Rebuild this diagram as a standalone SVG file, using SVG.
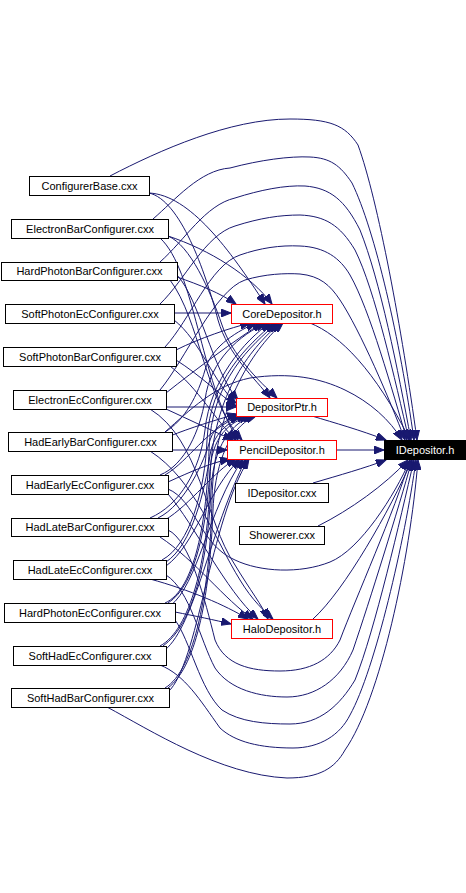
<svg xmlns="http://www.w3.org/2000/svg" width="466" height="893" viewBox="0 0 466 893">
<style>
.e{fill:none;stroke:#191970;stroke-width:1;marker-end:url(#a)}
.n rect{fill:#fff;stroke:#000;stroke-width:1}
.h rect{fill:#fff;stroke:#f00;stroke-width:1}
.r rect{fill:#000;stroke:#000;stroke-width:1}
text{font-family:"Liberation Sans",Arial,sans-serif;font-size:11px;text-anchor:middle;fill:#000}
.r text{fill:#fff}
</style>
<defs>
<marker id="a" markerUnits="userSpaceOnUse" markerWidth="11" markerHeight="8" refX="10" refY="4" orient="auto">
<path d="M0,0 L10,4 L0,8 z" fill="#191970" stroke="#191970"/>
</marker>
</defs>
<rect width="466" height="893" fill="#fff"/>
<g id="edges">
<path class="e" d="M110,176 C160,150 230,119 290,119 C330,119 345,125 358,145 C378,200 402,330 417,440"/>
<path class="e" d="M153,219 C175,200 200,170 230,168 C260,160 290,156 310,157 C330,158 340,165 352,183 C375,230 400,340 414,440"/>
<path class="e" d="M160,262 C185,240 205,205 235,198 C260,190 285,185 305,186 C330,188 345,200 360,230 C380,280 398,370 411,440"/>
<path class="e" d="M160,304 C185,280 205,235 235,226 C260,218 280,215 300,215 C325,216 340,225 355,250 C375,290 395,380 409,440"/>
<path class="e" d="M165,347 C190,320 210,265 240,255 C260,248 280,245 300,246 C325,247 340,258 350,275 C370,310 392,390 407,440"/>
<path class="e" d="M160,390 C185,360 215,290 245,280 C265,274 285,273 300,274 C320,276 330,285 340,300 C360,330 390,400 405,440"/>
<path class="e" d="M165,432 C190,410 215,385 250,378 C290,372 320,378 345,390 C370,402 390,420 402,440"/>
<path class="e" d="M168,489 C195,500 200,545 235,560 C260,572 300,574 330,562 C360,550 395,495 410,460"/>
<path class="e" d="M168,530 C190,540 205,600 215,640 C225,665 250,671 280,671 C310,671 330,660 340,640 C355,600 395,510 410,460"/>
<path class="e" d="M166,575 C190,590 200,640 215,668 C230,690 260,697 287,697 C315,697 340,680 353,650 C370,600 398,510 412,460"/>
<path class="e" d="M175,620 C190,640 200,690 222,710 C240,722 265,724 290,724 C320,724 340,705 355,680 C375,630 400,520 414,460"/>
<path class="e" d="M160,665 C185,675 200,700 220,728 C235,742 260,748 293,748 C320,748 340,735 350,715 C375,670 405,540 416,460"/>
<path class="e" d="M107,707 C150,730 220,775 287,778 C320,778 335,768 345,750 C380,700 410,560 418,460"/>
<path class="e" d="M310,323 C340,335 375,370 410,440"/>
<path class="e" d="M312,416 C335,423 360,430 386,440"/>
<path class="e" d="M336,450 L384,450"/>
<path class="e" d="M313,483 C340,475 365,468 386,460"/>
<path class="e" d="M318,526 C350,510 385,485 408,460"/>
<path class="e" d="M313,619 C345,590 390,510 412,460"/>
<path class="e" d="M149,193 C190,195 230,250 265,304"/>
<path class="e" d="M168,236 C210,250 250,275 272,304"/>
<path class="e" d="M177,277 C200,285 220,293 236,304"/>
<path class="e" d="M174,313 L231,313"/>
<path class="e" d="M176,350 C200,338 230,328 250,323"/>
<path class="e" d="M166,393 C195,370 235,340 262,323"/>
<path class="e" d="M165,432 C185,420 198,395 205,370 C212,345 240,330 256,323"/>
<path class="e" d="M160,475 C185,465 200,430 205,400 C210,360 240,335 266,323"/>
<path class="e" d="M150,518 C180,505 200,470 205,430 C210,380 245,340 270,323"/>
<path class="e" d="M162,560 C190,545 205,490 207,440 C210,380 248,345 274,323"/>
<path class="e" d="M165,603 C195,590 207,520 209,450 C211,380 252,345 277,323"/>
<path class="e" d="M160,646 C190,630 208,560 210,480 C212,390 255,345 280,323"/>
<path class="e" d="M165,688 C195,670 210,590 212,500 C214,400 258,345 283,323"/>
<path class="e" d="M149,193 C180,200 205,270 218,320 C228,355 255,378 270,398"/>
<path class="e" d="M168,236 C190,245 210,290 222,325 C232,355 258,380 277,398"/>
<path class="e" d="M177,275 C200,300 212,370 238,400"/>
<path class="e" d="M174,320 C200,340 215,385 236,403"/>
<path class="e" d="M176,360 C200,375 220,395 236,406"/>
<path class="e" d="M166,407 L236,407"/>
<path class="e" d="M170,436 C190,428 215,420 237,414"/>
<path class="e" d="M165,475 C190,460 205,430 240,416"/>
<path class="e" d="M158,518 C185,505 205,460 210,440 C215,425 228,418 243,416"/>
<path class="e" d="M166,562 C192,545 205,490 210,455 C214,430 232,420 247,416"/>
<path class="e" d="M168,603 C197,585 207,520 210,470 C213,430 236,420 250,416"/>
<path class="e" d="M163,646 C193,625 208,560 211,490 C214,435 240,420 253,416"/>
<path class="e" d="M168,688 C198,665 210,590 213,510 C216,440 244,420 256,416"/>
<path class="e" d="M160,238 C195,270 200,380 238,440"/>
<path class="e" d="M170,280 C200,320 205,400 242,440"/>
<path class="e" d="M170,366 C200,390 215,420 236,440"/>
<path class="e" d="M166,409 C190,420 215,432 233,440"/>
<path class="e" d="M172,450 L227,450"/>
<path class="e" d="M168,482 C190,472 210,463 230,459"/>
<path class="e" d="M165,520 C190,505 215,470 236,459"/>
<path class="e" d="M166,566 C195,545 208,490 240,459"/>
<path class="e" d="M170,606 C198,585 208,510 243,459"/>
<path class="e" d="M165,650 C195,625 210,530 246,459"/>
<path class="e" d="M168,692 C198,665 210,520 249,459"/>
<path class="e" d="M150,409 C200,440 205,520 235,565 C250,590 262,605 268,619"/>
<path class="e" d="M150,451 C195,480 215,540 240,580 C252,600 265,612 273,619"/>
<path class="e" d="M168,494 C195,525 225,590 258,619"/>
<path class="e" d="M160,537 C195,560 225,600 253,619"/>
<path class="e" d="M150,579 C190,590 225,605 248,619"/>
<path class="e" d="M175,612 C195,616 215,620 231,624"/>
</g>
<g id="ConfigurerBase" class="n"><rect x="29.5" y="176.5" width="120" height="19"/><text x="89.5" y="189.5">ConfigurerBase.cxx</text></g>
<g id="ElectronBarConfigurer" class="n"><rect x="11.5" y="219.5" width="157" height="19"/><text x="90" y="232.5">ElectronBarConfigurer.cxx</text></g>
<g id="HardPhotonBarConfigurer" class="n"><rect x="1.5" y="262.5" width="176" height="18"/><text x="89.5" y="275">HardPhotonBarConfigurer.cxx</text></g>
<g id="SoftPhotonEcConfigurer" class="n"><rect x="5.5" y="304.5" width="169" height="19"/><text x="90" y="317.5">SoftPhotonEcConfigurer.cxx</text></g>
<g id="SoftPhotonBarConfigurer" class="n"><rect x="3.5" y="347.5" width="173" height="19"/><text x="90" y="360.5">SoftPhotonBarConfigurer.cxx</text></g>
<g id="ElectronEcConfigurer" class="n"><rect x="13.5" y="390.5" width="153" height="19"/><text x="90" y="403.5">ElectronEcConfigurer.cxx</text></g>
<g id="HadEarlyBarConfigurer" class="n"><rect x="8.5" y="432.5" width="164" height="19"/><text x="90.5" y="445.5">HadEarlyBarConfigurer.cxx</text></g>
<g id="HadEarlyEcConfigurer" class="n"><rect x="11.5" y="475.5" width="157" height="19"/><text x="90" y="488.5">HadEarlyEcConfigurer.cxx</text></g>
<g id="HadLateBarConfigurer" class="n"><rect x="11.5" y="518.5" width="157" height="18"/><text x="90" y="531">HadLateBarConfigurer.cxx</text></g>
<g id="HadLateEcConfigurer" class="n"><rect x="13.5" y="560.5" width="153" height="19"/><text x="90" y="573.5">HadLateEcConfigurer.cxx</text></g>
<g id="HardPhotonEcConfigurer" class="n"><rect x="4.5" y="603.5" width="171" height="19"/><text x="90" y="616.5">HardPhotonEcConfigurer.cxx</text></g>
<g id="SoftHadEcConfigurer" class="n"><rect x="13.5" y="646.5" width="153" height="19"/><text x="90" y="659.5">SoftHadEcConfigurer.cxx</text></g>
<g id="SoftHadBarConfigurer" class="n"><rect x="11.5" y="688.5" width="158" height="19"/><text x="90.5" y="701.5">SoftHadBarConfigurer.cxx</text></g>
<g id="CoreDepositor" class="h"><rect x="231.5" y="304.5" width="101" height="19"/><text x="282" y="317.5">CoreDepositor.h</text></g>
<g id="DepositorPtr" class="h"><rect x="236.5" y="398.5" width="91" height="18"/><text x="282" y="411">DepositorPtr.h</text></g>
<g id="PencilDepositor" class="h"><rect x="227.5" y="440.5" width="109" height="19"/><text x="282" y="453.5">PencilDepositor.h</text></g>
<g id="IDepositor_h" class="r"><rect x="384.5" y="440.5" width="81" height="19"/><text x="425" y="453.5">IDepositor.h</text></g>
<g id="IDepositor_cxx" class="n"><rect x="235.5" y="483.5" width="93" height="19"/><text x="282" y="496.5">IDepositor.cxx</text></g>
<g id="Showerer" class="n"><rect x="239.5" y="526.5" width="85" height="18"/><text x="282" y="539">Showerer.cxx</text></g>
<g id="HaloDepositor" class="h"><rect x="231.5" y="619.5" width="101" height="19"/><text x="282" y="632.5">HaloDepositor.h</text></g>
</svg>
